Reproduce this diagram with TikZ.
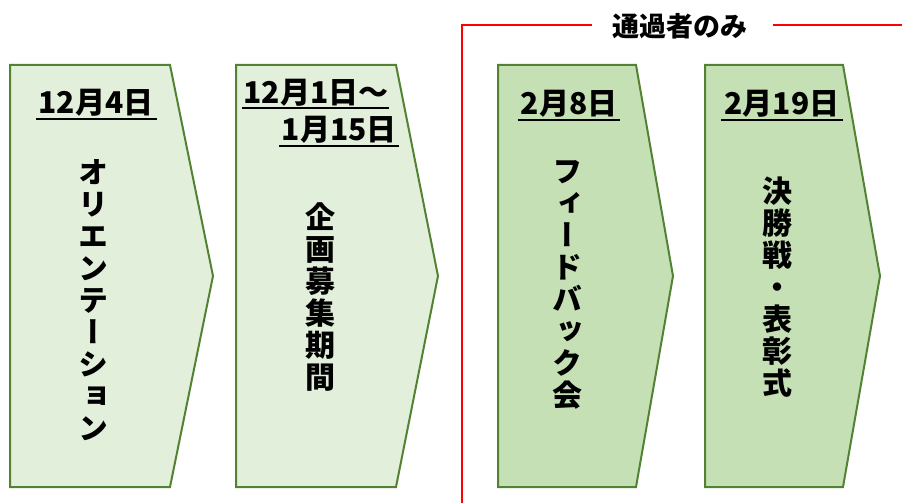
\documentclass[tikz,border=0pt]{standalone}
\usepackage{fontspec}
\setmainfont{Noto Sans CJK JP}
\newfontfamily\vjp[RawFeature=+vert]{Noto Sans CJK JP}
\definecolor{lightg}{HTML}{E2EFDA}
\definecolor{darkg}{HTML}{C5E0B4}
\definecolor{edgeg}{HTML}{548235}
\begin{document}
\begin{tikzpicture}[x=1pt,y=-1pt,
  chev/.style={draw=edgeg,line width=2pt,line join=miter},
  datetxt/.style={font=\bfseries\fontsize{30}{32}\selectfont,inner sep=0pt,anchor=base},
  vtxt/.style={font=\vjp\bfseries\fontsize{30}{32}\selectfont,align=center,inner sep=0pt},
  uline/.style={line width=1.6pt,black},
  redline/.style={red,line width=2pt}]
\useasboundingbox (0,0) rectangle (902,503);
% chevrons
\path[chev,fill=lightg] (10,65) -- (170,65) -- (213,276) -- (170,487) -- (10,487) -- cycle;
\path[chev,fill=lightg] (236,65) -- (396,65) -- (438,276) -- (396,487) -- (236,487) -- cycle;
\path[chev,fill=darkg] (498,65) -- (636,65) -- (673,276) -- (636,487) -- (498,487) -- cycle;
\path[chev,fill=darkg] (705,65) -- (843,65) -- (880,276) -- (843,487) -- (705,487) -- cycle;
% red bracket
\node[font=\bfseries\fontsize{27}{30}\selectfont,inner sep=0pt] (hdr) at (680,26) {通過者のみ};
\coordinate (rb) at (462,503);
\coordinate (rt) at (462,25);
\coordinate (rl) at (592,25);
\coordinate (rr0) at (773,25);
\coordinate (rr1) at (902,25);
\draw[redline] (rb) -- (rt) -- (rl);
\draw[redline] (rr0) -- (rr1);
% dates
\node[datetxt] (d1) at (96,113) {12月4日};
\draw[uline] ([xshift=-2pt,yshift=-6pt]d1.base west) -- ([xshift=3pt,yshift=-6pt]d1.base east);
\node[datetxt] (d2a) at (316,103) {12月1日～};
\draw[uline] ([xshift=-1pt,yshift=-5pt]d2a.base west) -- ([xshift=0pt,yshift=-5pt]d2a.base east);
\node[datetxt,anchor=base east] (d2b) at (397,140) {1月15日};
\draw[uline] ([xshift=-3pt,yshift=-6pt]d2b.base west) -- ([xshift=2pt,yshift=-6pt]d2b.base east);
\node[datetxt] (d3) at (569,114) {2月8日};
\draw[uline] ([xshift=-3pt,yshift=-6pt]d3.base west) -- ([xshift=3pt,yshift=-6pt]d3.base east);
\node[datetxt] (d4) at (782,114) {2月19日};
\draw[uline] ([xshift=-3pt,yshift=-6pt]d4.base west) -- ([xshift=3pt,yshift=-6pt]d4.base east);
% vertical texts
\node[vtxt] (v1) at (93,300) {オ\\リ\\エ\\ン\\テ\\ー\\シ\\ョ\\ン};
\node[vtxt] (v2) at (320,297) {企\\画\\募\\集\\期\\間};
\node[vtxt] (v3) at (567,285) {フ\\ィ\\ー\\ド\\バ\\ッ\\ク\\会};
\node[vtxt] (v4) at (777,287) {決\\勝\\戦\\・\\表\\彰\\式};
\end{tikzpicture}
\end{document}
